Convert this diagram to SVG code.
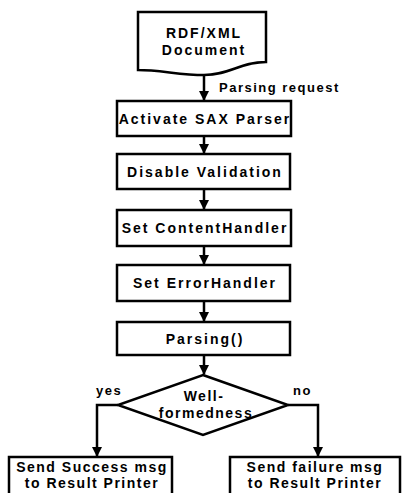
<svg xmlns="http://www.w3.org/2000/svg" width="406" height="493" viewBox="0 0 406 493">
<style>
.box{fill:#fff;stroke:#000;stroke-width:2.5}
.t{font-family:"Liberation Sans",Arial,sans-serif;font-weight:bold;font-size:14px;letter-spacing:2px;fill:#000;text-anchor:middle}
.s{font-family:"Liberation Sans",Arial,sans-serif;font-weight:bold;font-size:14px;letter-spacing:1.5px;fill:#000;text-anchor:middle}
.l{font-family:"Liberation Sans",Arial,sans-serif;font-weight:bold;font-size:13px;letter-spacing:1.5px;fill:#000}
.c{fill:none;stroke:#000;stroke-width:2.5}
</style>
<defs>
<marker id="ah" viewBox="0 0 10 10" refX="9" refY="5" markerWidth="4" markerHeight="4" orient="auto" markerUnits="strokeWidth">
<path d="M0,0 L10,5 L0,10 z" fill="#000"/>
</marker>
</defs>
<rect width="406" height="493" fill="#fff"/>
<g id="connectors">
<line class="c" x1="204" y1="72" x2="204" y2="100" marker-end="url(#ah)"/>
<line class="c" x1="204" y1="136" x2="204" y2="153" marker-end="url(#ah)"/>
<line class="c" x1="204" y1="189" x2="204" y2="209" marker-end="url(#ah)"/>
<line class="c" x1="204" y1="246" x2="204" y2="264" marker-end="url(#ah)"/>
<line class="c" x1="204" y1="301" x2="204" y2="321" marker-end="url(#ah)"/>
<line class="c" x1="204" y1="355" x2="204" y2="374" marker-end="url(#ah)"/>
<polyline class="c" points="118,405 97,405 97,456" marker-end="url(#ah)"/>
<polyline class="c" points="288,405 318,405 318,456" marker-end="url(#ah)"/>
<text class="l" x="219" y="92">Parsing request</text>
<text class="l" x="96" y="395">yes</text>
<text class="l" x="293" y="395">no</text>
</g>
<g id="doc">
<path class="box" d="M138,12 L266,12 L266,62 C240,62 230,75 204,75 C180,75 160,70 138,70 Z"/>
<text class="t" x="204" y="38">RDF/XML</text>
<text class="t" x="204" y="55">Document</text>
</g>
<g id="activate">
<rect class="box" x="117" y="101" width="174" height="35"/>
<text class="t" x="205" y="124">Activate SAX Parser</text>
</g>
<g id="disable">
<rect class="box" x="117" y="154" width="173" height="35"/>
<text class="t" x="205" y="177">Disable Validation</text>
</g>
<g id="content">
<rect class="box" x="117" y="210" width="174" height="36"/>
<text class="t" x="205" y="233">Set ContentHandler</text>
</g>
<g id="error">
<rect class="box" x="117" y="265" width="173" height="36"/>
<text class="t" x="205" y="288">Set ErrorHandler</text>
</g>
<g id="parsing">
<rect class="box" x="117" y="322" width="173" height="33"/>
<text class="t" x="205" y="344">Parsing()</text>
</g>
<g id="decision">
<polygon class="box" points="203,375 288,405 203,435 118,405"/>
<text class="s" x="204" y="401">Well-</text>
<text class="s" x="206" y="418">formedness</text>
</g>
<g id="success">
<rect class="box" x="9" y="457" width="163" height="40"/>
<text class="s" x="92" y="472">Send Success msg</text>
<text class="s" x="92" y="488">to Result Printer</text>
</g>
<g id="failure">
<rect class="box" x="230" y="457" width="170" height="40"/>
<text class="s" x="315" y="472">Send failure msg</text>
<text class="s" x="315" y="488">to Result Printer</text>
</g>
</svg>
